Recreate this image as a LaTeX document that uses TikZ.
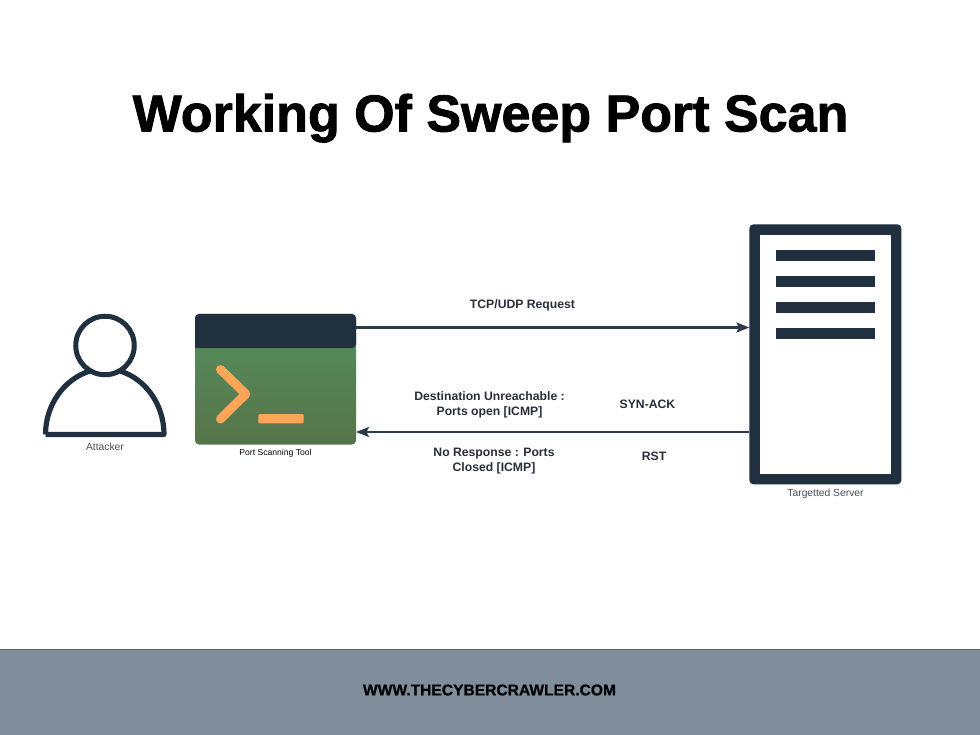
\documentclass[tikz,border=0pt]{standalone}
\usepackage{fontspec}
\setmainfont{Liberation Sans}
\newfontfamily\titlefont[FakeBold=1.6]{Liberation Sans Bold}
\newfontfamily\footfont[FakeBold=0.8]{Liberation Sans Bold}
\definecolor{navy}{HTML}{20303F}
\definecolor{arrowc}{HTML}{2C3A4A}
\definecolor{txtc}{HTML}{282F3A}
\definecolor{foot}{HTML}{808D9A}
\definecolor{orangec}{HTML}{FFA557}
\definecolor{greenA}{HTML}{55905F}
\definecolor{greenB}{HTML}{55885A}
\definecolor{greenC}{HTML}{56744A}
\usetikzlibrary{arrows.meta}
\tikzset{
  boxnode/.style={inner sep=0pt,outer sep=0pt,anchor=north west},
  msg/.style={font=\bfseries\fontsize{12.2}{14.5}\selectfont,text=txtc,align=center,inner sep=0pt},
  captext/.style={font=\fontsize{10.3}{12}\selectfont,text=txtc!85!white,inner sep=0pt},
  flow/.style={draw=arrowc,line width=2.1pt,-{Stealth[length=13pt,width=10pt,inset=2.5pt]}},
  barfill/.style={fill=navy},
}
\begin{document}
\begin{tikzpicture}[x=1pt,y=-1pt]
\useasboundingbox (0,0) rectangle (980,735);
\fill[white] (0,0) rectangle (980,735);
% footer
\node[boxnode,fill=foot,minimum width=980pt,minimum height=86pt] (footer) at (0,649) {};
\draw[foot!75!black,line width=0.5pt] (footer.north west) -- (footer.north east);
\node[inner sep=0pt,font=\footfont\fontsize{15.6}{17}\selectfont,text=black] (foottext) at (489.5,690) {WWW.THECYBERCRAWLER.COM};
% title
\node[inner sep=0pt,font=\titlefont\fontsize{52}{60}\selectfont,text=black,anchor=base] (title) at (490.5,131.5) {Working Of Sweep Port Scan};
% attacker
\draw[navy,line width=5.2pt,line join=round] (45.5,434.4) -- (164,434.4)
  .. controls (164,405) and (146,379) .. (120,371)
  (90,371) .. controls (64,379) and (45.5,405) .. (45.5,434.4);
\node[circle,draw=navy,line width=5pt,fill=white,minimum size=58.5pt,inner sep=0pt,outer sep=0pt] (head) at (105,345.5) {};
\node[captext] (attacker) at (105,447) {Attacker};
% tool
\node[boxnode,rounded corners=4pt,minimum width=161pt,minimum height=130.5pt,top color=greenA,middle color=greenB,bottom color=greenC] (tool) at (195,314) {};
\fill[navy,rounded corners=4pt] (195,348) -- (195,314) -- (356,314) -- (356,348) [sharp corners] -- cycle;
\draw[orangec,line width=9pt,line cap=round,line join=round] (220.5,369.5) -- (245.7,394) -- (220.5,419);
\fill[orangec,rounded corners=1.2pt] (258.3,414) rectangle (303.7,423.4);
\node[captext,font=\fontsize{8.6}{10}\selectfont,text=black!85!navy] (tooltext) at (275.5,453) {Port Scanning Tool};
% server
\node[boxnode,fill=navy,rounded corners=4pt,minimum width=152pt,minimum height=260pt] (server) at (749.4,224.3) {};
\fill[white] (760,235.3) rectangle (890.5,473.5);
\foreach \yy in {250,276,302,328} \fill[barfill] (775.7,\yy) rectangle (875,\yy+11);
\node[captext] (servertext) at (825.5,494) {Targetted Server};
% connectors
\draw[flow] (tool.east |- 0,327.5) -- (server.west |- 0,327.5);
\draw[flow] (server.west |- 0,432) -- (tool.east |- 0,432);
% labels
\node[msg] (l1) at (522.5,305.5) {TCP/UDP Request};
\node[msg] (l2) at (489.5,405) {Destination Unreachable :\\Ports open [ICMP]};
\node[msg] (l3) at (647.5,404) {SYN-ACK};
\node[msg] (l4) at (494,461) {No Response : Ports\\Closed [ICMP]};
\node[msg] (l5) at (654,456) {RST};
\end{tikzpicture}
\end{document}
